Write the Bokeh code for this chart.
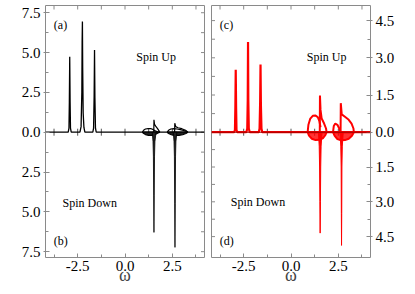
import numpy as np
from bokeh.plotting import figure
from bokeh.models import Range1d, FixedTicker, LinearAxis, CustomJSTickFormatter, Span
from bokeh.layouts import row
from bokeh.embed import file_html
from bokeh.resources import INLINE
from bokeh.core.properties import value

FONT = "Liberation Serif"
GRAY = "#8a8a8a"

# ---------------- data ----------------
# x ticks
x_major = [-2.5, 0.0, 2.5]
x_minor = [-3.75, -2.5, -1.25, 0.0, 1.25, 2.5, 3.75]

# panel (a)/(b) : black
a_up_x = [-4.2, -3.00, -2.96, -2.94, -2.92, -2.90, -2.88, -2.84, -2.38, -2.32, -2.28, -2.265,
          -2.25, -2.235, -2.21, -2.17, -2.12, -1.70, -1.66, -1.63, -1.61, -1.59, -1.56, -1.52, 4.2]
a_up_y = [0, 0, 0.25, 1.9, 4.74, 1.9, 0.25, 0, 0, 0.35, 2.5, 5.7,
          6.95, 4.0, 1.2, 0.3, 0, 0, 0.25, 2.3, 5.16, 2.2, 0.25, 0, 0]

a_l1_up_x = [0.92, 0.98, 1.08, 1.22, 1.38, 1.50, 1.60, 1.72, 1.84]
a_l1_up_y = [0, 0.12, 0.20, 0.23, 0.22, 0.16, 0.08, 0.03, 0]
a_l1_dn_x = [0.92, 0.97, 1.08, 1.25, 1.42, 1.58, 1.72, 1.84]
a_l1_dn_d = [0, 0.07, 0.15, 0.2, 0.2, 0.15, 0.07, 0]
a_s1_x = [1.52, 1.53, 1.56, 1.62, 1.72, 1.84]
a_s1_y = [0, 0.78, 0.5, 0.38, 0.22, 0]
a_d1_x = [1.44, 1.48, 1.50, 1.515, 1.53, 1.545, 1.56, 1.58, 1.64]
a_d1_d = [0, 0.6, 1.5, 4.0, 6.29, 4.0, 1.5, 0.6, 0]

a_l2_up_x = [2.23, 2.30, 2.42, 2.58, 2.75, 2.92, 3.08, 3.22, 3.32]
a_l2_up_y = [0, 0.12, 0.2, 0.22, 0.2, 0.16, 0.11, 0.06, 0]
a_l2_dn_x = [2.23, 2.30, 2.45, 2.65, 2.85, 3.05, 3.22, 3.32]
a_l2_dn_d = [0, 0.08, 0.16, 0.2, 0.2, 0.15, 0.08, 0]
a_s2_x = [2.62, 2.63, 2.68, 2.8, 3.0, 3.2, 3.32]
a_s2_y = [0, 0.56, 0.35, 0.28, 0.22, 0.12, 0]
a_d2_x = [2.55, 2.59, 2.61, 2.625, 2.64, 2.655, 2.67, 2.69, 2.74]
a_d2_d = [0, 0.6, 1.5, 4.5, 7.23, 4.5, 1.5, 0.6, 0]

a_y_major = [2.5, 5.0, 7.5]
a_y_minor = [1.25, 2.5, 3.75, 5.0, 6.25, 7.5]

# panel (c)/(d) : red
c_up_x = [-4.2, -3.0, -2.96, -2.94, -2.92, -2.90, -2.88, -2.84, -2.36, -2.31, -2.285, -2.27,
          -2.255, -2.23, -2.18, -1.70, -1.66, -1.63, -1.61, -1.59, -1.56, -1.52, 4.2]
c_up_y = [0, 0, 0.1, 1.0, 2.52, 1.0, 0.1, 0, 0, 0.15, 1.3, 3.64,
          1.3, 0.15, 0, 0, 0.15, 1.2, 2.73, 1.1, 0.15, 0, 0]

c_l1_up_x = [0.88, 0.92, 1.02, 1.15, 1.30, 1.42, 1.50, 1.56]
c_l1_up_y = [0, 0.3, 0.55, 0.66, 0.67, 0.6, 0.45, 0.2]
c_l1_dn_x = [0.88, 0.95, 1.1, 1.3, 1.5, 1.7, 1.82, 1.88]
c_l1_dn_d = [0, 0.15, 0.28, 0.34, 0.33, 0.25, 0.12, 0]
c_s1_x = [1.52, 1.53, 1.56, 1.62, 1.75, 1.85, 1.88]
c_s1_y = [0, 1.48, 0.9, 0.55, 0.35, 0.15, 0]
c_d1_x = [1.45, 1.49, 1.51, 1.525, 1.54, 1.555, 1.57, 1.59, 1.64]
c_d1_d = [0, 0.6, 1.5, 3.0, 4.35, 3.0, 1.5, 0.6, 0]

c_l2_up_x = [2.22, 2.26, 2.34, 2.45, 2.55, 2.62]
c_l2_up_y = [0, 0.25, 0.35, 0.3, 0.15, 0]
c_l2_dn_x = [2.22, 2.3, 2.45, 2.65, 2.85, 3.05, 3.22, 3.32]
c_l2_dn_d = [0, 0.15, 0.3, 0.35, 0.34, 0.28, 0.15, 0]
c_s2_x = [2.62, 2.63, 2.68, 2.85, 3.05, 3.2, 3.3, 3.32]
c_s2_y = [0, 1.17, 0.72, 0.62, 0.5, 0.35, 0.15, 0]
c_d2_x = [2.59, 2.63, 2.65, 2.66, 2.67, 2.68, 2.69, 2.71, 2.76]
c_d2_d = [0, 0.6, 1.5, 3.5, 4.88, 3.5, 1.5, 0.6, 0]

c_y_major = [1.5, 3.0, 4.5]
c_y_minor = [0.75, 1.5, 2.25, 3.0, 3.75, 4.5]

# ---------------- layout constants ----------------
XR = (-4.2, 4.2)
A_Y = (-7.866, 7.954)          # left column, one scale for up and down
C_UP = (-5.052, 5.109)         # right column, spin up scale
C_DN = (-5.401, 5.461)         # right column, spin down scale
RATIO = (C_UP[1] - C_UP[0]) / (C_DN[1] - C_DN[0])
FIG_H = 294


def make_axis(ticker, formatter, out=0, xlabel=None):
    ax = LinearAxis(ticker=ticker, formatter=formatter)
    ax.axis_line_color = None
    ax.major_tick_line_color = GRAY
    ax.minor_tick_line_color = GRAY
    ax.major_tick_in = 4
    ax.major_tick_out = out
    ax.minor_tick_in = 3
    ax.minor_tick_out = 0
    ax.major_label_text_font = FONT
    ax.major_label_text_font_size = "15px"
    ax.major_label_text_color = "black"
    ax.major_label_standoff = 3
    if xlabel:
        ax.axis_label = xlabel
        ax.axis_label_text_font = FONT
        ax.axis_label_text_font_style = "normal"
        ax.axis_label_text_font_size = "18px"
        ax.axis_label_standoff = -9
    return ax


def base_fig(width, y_range, mbl, mbr):
    p = figure(width=width, height=FIG_H, x_range=Range1d(*XR), y_range=Range1d(*y_range),
               output_backend="svg", toolbar_location=None,
               x_axis_location=None, y_axis_location=None,
               min_border_left=mbl, min_border_right=mbr, min_border_top=5, min_border_bottom=37)
    p.grid.visible = False
    p.outline_line_color = GRAY
    p.outline_line_width = 1
    p.background_fill_color = "white"
    p.border_fill_color = "white"
    return p


def edge_ticks(p, yt, x_edge, y_edge):
    # inward tick marks on the unlabelled sides and across the zero line
    p.scatter(x_minor, [y_edge] * len(x_minor), marker="dash", angle=np.pi / 2, size=8,
              line_color=GRAY, line_width=1)
    p.scatter(x_minor, [0.0] * len(x_minor), marker="dash", angle=np.pi / 2, size=7,
              line_color="#555555", line_width=1)
    p.scatter([x_edge] * len(yt), yt, marker="dash", size=7, line_color=GRAY, line_width=1)


x_fmt = CustomJSTickFormatter(code="return tick.toFixed(1);")
xt = FixedTicker(ticks=x_major, minor_ticks=x_minor)

# ----- left column -----
pa = base_fig(206, A_Y, 45, 2)
a_all = [0.0] + a_y_minor + [-v for v in a_y_minor]
a_ticks = FixedTicker(ticks=[0.0] + a_y_major + [-v for v in a_y_major], minor_ticks=a_all)
a_fmt = CustomJSTickFormatter(code="return Math.abs(tick).toFixed(1);")
pa.add_layout(make_axis(a_ticks, a_fmt, out=2), "left")
pa.add_layout(make_axis(xt, x_fmt, xlabel="ω"), "below")
edge_ticks(pa, a_all, XR[1], A_Y[1])

K = "black"
pa.line(a_up_x, a_up_y, line_color=K, line_width=1.3)
for ux, uy, dx, dd, sx, sy, kx, kd in [
    (a_l1_up_x, a_l1_up_y, a_l1_dn_x, a_l1_dn_d, a_s1_x, a_s1_y, a_d1_x, a_d1_d),
    (a_l2_up_x, a_l2_up_y, a_l2_dn_x, a_l2_dn_d, a_s2_x, a_s2_y, a_d2_x, a_d2_d)]:
    pa.line(ux, uy, line_color=K, line_width=1.2)
    pa.patch(dx, -np.array(dd), fill_color="#222222", line_color=K, line_width=1.2)
    pa.line(sx, sy, line_color=K, line_width=1.2)
    pa.patch(kx, -np.array(kd), fill_color="#222222", line_color=K, line_width=0.8)

txt = dict(text_font=value(FONT), text_font_size="12px", text_color="black",
           text_align="left", text_baseline="middle")
pa.text(x=[0.6], y=[4.75], text=["Spin Up"], **txt)
pa.text(x=[-3.3], y=[-4.46], text=["Spin Down"], **txt)
pa.text(x=[-3.76], y=[6.76], text=["(a)"], **txt)
pa.text(x=[-3.76], y=[-6.84], text=["(b)"], **txt)

# ----- right column -----
pc = base_fig(194, C_UP, 5, 30)
pc.extra_y_ranges = {"dn": Range1d(*C_DN)}
c_all = [0.0] + c_y_minor + [-v * RATIO for v in c_y_minor]
c_ticks = FixedTicker(ticks=[0.0] + c_y_major + [-v * RATIO for v in c_y_major], minor_ticks=c_all)
c_fmt = CustomJSTickFormatter(args=dict(r=RATIO),
                              code="var v = tick < 0 ? -tick / r : tick; return v.toFixed(1);")
pc.add_layout(make_axis(c_ticks, c_fmt, out=2), "right")
pc.add_layout(make_axis(xt, x_fmt, xlabel="ω"), "below")
edge_ticks(pc, c_all, XR[0], C_UP[1])

R = "#ff0000"
pc.line(c_up_x, c_up_y, line_color=R, line_width=2.2)
for ux, uy, dx, dd, sx, sy, kx, kd in [
    (c_l1_up_x, c_l1_up_y, c_l1_dn_x, c_l1_dn_d, c_s1_x, c_s1_y, c_d1_x, c_d1_d),
    (c_l2_up_x, c_l2_up_y, c_l2_dn_x, c_l2_dn_d, c_s2_x, c_s2_y, c_d2_x, c_d2_d)]:
    pc.line(ux, uy, line_color=R, line_width=2)
    pc.patch(dx, -np.array(dd), fill_color=R, fill_alpha=0.8, line_color=R, line_width=2,
             y_range_name="dn")
    pc.line(sx, sy, line_color=R, line_width=2)
    pc.patch(kx, -np.array(kd), fill_color=R, line_color=R, line_width=1, y_range_name="dn")
pc.add_layout(Span(location=0, dimension="width", line_color="#990000", line_width=1))

pc.text(x=[0.83], y=[3.05], text=["Spin Up"], **txt)
pc.text(x=[-3.18], y=[-3.03], text=["Spin Down"], y_range_name="dn", **txt)
pc.text(x=[-3.76], y=[4.34], text=["(c)"], **txt)
pc.text(x=[-3.76], y=[-4.7], text=["(d)"], y_range_name="dn", **txt)

layout = row(pa, pc)
open("out.html", "w").write(file_html(layout, INLINE))
